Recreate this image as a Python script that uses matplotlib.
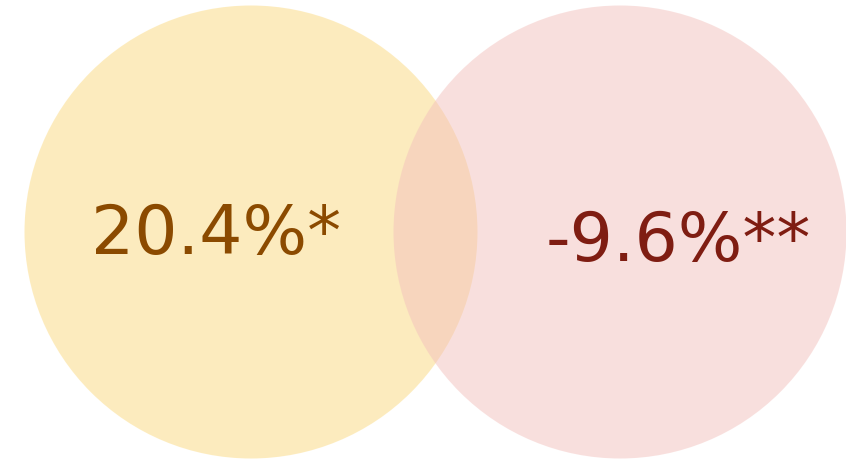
import matplotlib
matplotlib.use("Agg")
import matplotlib.pyplot as plt
from matplotlib.patches import Circle

# values shown in the two circles
labels = ["20.4%*", "-9.6%**"]
circle_colors = ["#FBD97F", "#F3C1BD"]
text_colors = ["#8B4A00", "#7F1D12"]

# layout in pixel units
centers = [(251, 233), (620, 233)]
radius = 226.5
text_pos = [(216, 254), (678, 261)]

fig = plt.figure(figsize=(8.46, 4.6), dpi=100)
ax = fig.add_axes([0, 0, 1, 1])
ax.set_xlim(0, 846)
ax.set_ylim(460, 0)
ax.axis("off")

for c, col in zip(centers, circle_colors):
    ax.add_patch(Circle(c, radius, facecolor=col, edgecolor="none", alpha=0.5))

for lab, pos, col in zip(labels, text_pos, text_colors):
    ax.text(pos[0], pos[1], lab, ha="center", va="baseline", fontsize=49,
            color=col, family="DejaVu Sans")

fig.savefig("out.png", dpi=100)
